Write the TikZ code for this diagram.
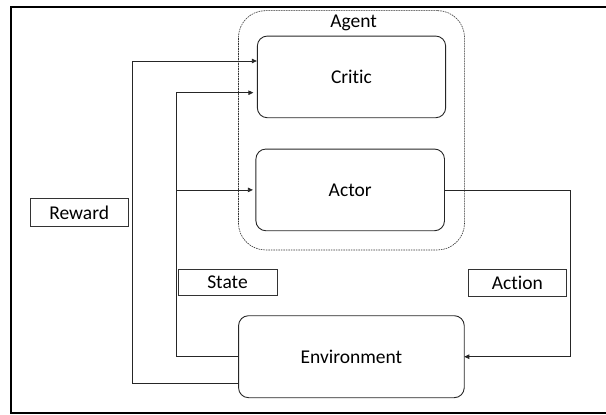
\documentclass[tikz,border=0pt]{standalone}
\usepackage{fontspec}
\setmainfont{Carlito}[RawFeature={-liga;-clig;-dlig}]
\usetikzlibrary{arrows.meta}
\begin{document}
\begin{tikzpicture}[x=1pt,y=-1pt,
  box/.style={draw=black!85,line width=0.9pt,rounded corners=10pt,inner sep=0pt,outer sep=0pt,font=\fontsize{19.5}{22}\selectfont},
  lbl/.style={draw=black!80,line width=0.9pt,inner sep=0pt,outer sep=0pt,font=\fontsize{19.5}{22}\selectfont},
  arr/.style={draw=black!85,line width=0.8pt,-{Triangle[length=5pt,width=4.5pt]}},
  ln/.style={draw=black!85,line width=0.8pt}]
\useasboundingbox (0,0) rectangle (606,415);
\draw[line width=2pt] (606,7) -- (11.3,7) -- (11.3,413.4) -- (606,413.4);
% agent container
\node[draw=black!80,dash pattern=on 1.6pt off 0.9pt,line width=0.6pt,rounded corners=27pt,minimum width=226.1pt,minimum height=239.3pt,inner sep=0pt] (agent) at (351.5,130.3) {};
\node[font=\fontsize{19.5}{22}\selectfont,inner sep=0pt] (agentlbl) at (353.7,23) {Agent};
\node[box,minimum width=188.3pt,minimum height=81.7pt] (critic) at (351.5,76.9) {Critic};
\node[box,minimum width=188.6pt,minimum height=81.7pt] (actor) at (350.2,189.9) {Actor};
\node[box,minimum width=225.7pt,minimum height=82pt] (env) at (351.4,356.7) {Environment};
\node[lbl,minimum width=98.1pt,minimum height=27.3pt] (reward) at (79.2,212.4) {Reward};
\node[lbl,minimum width=99pt,minimum height=26.7pt] (state) at (227.5,282.4) {State};
\node[lbl,minimum width=98.5pt,minimum height=27pt] (action) at (517.3,282.5) {Action};
\coordinate (rwc) at (132.6,61);
\coordinate (sc) at (176.7,92.7);
\coordinate (ac) at (570.3,189.9);
% reward
\draw[arr,shorten >=0.5pt] ([yshift=-26.6pt]env.west) -| (rwc) -- (critic.west |- rwc);
% state
\draw[arr,shorten >=4pt] (env.west) -| (sc) -- (critic.west |- sc);
\draw[arr,shorten >=3pt] (sc |- actor.west) -- (actor.west);
% action
\draw[arr] (actor.east) -- (ac) -- (ac |- env.east) -- (env.east);
\end{tikzpicture}
\end{document}
